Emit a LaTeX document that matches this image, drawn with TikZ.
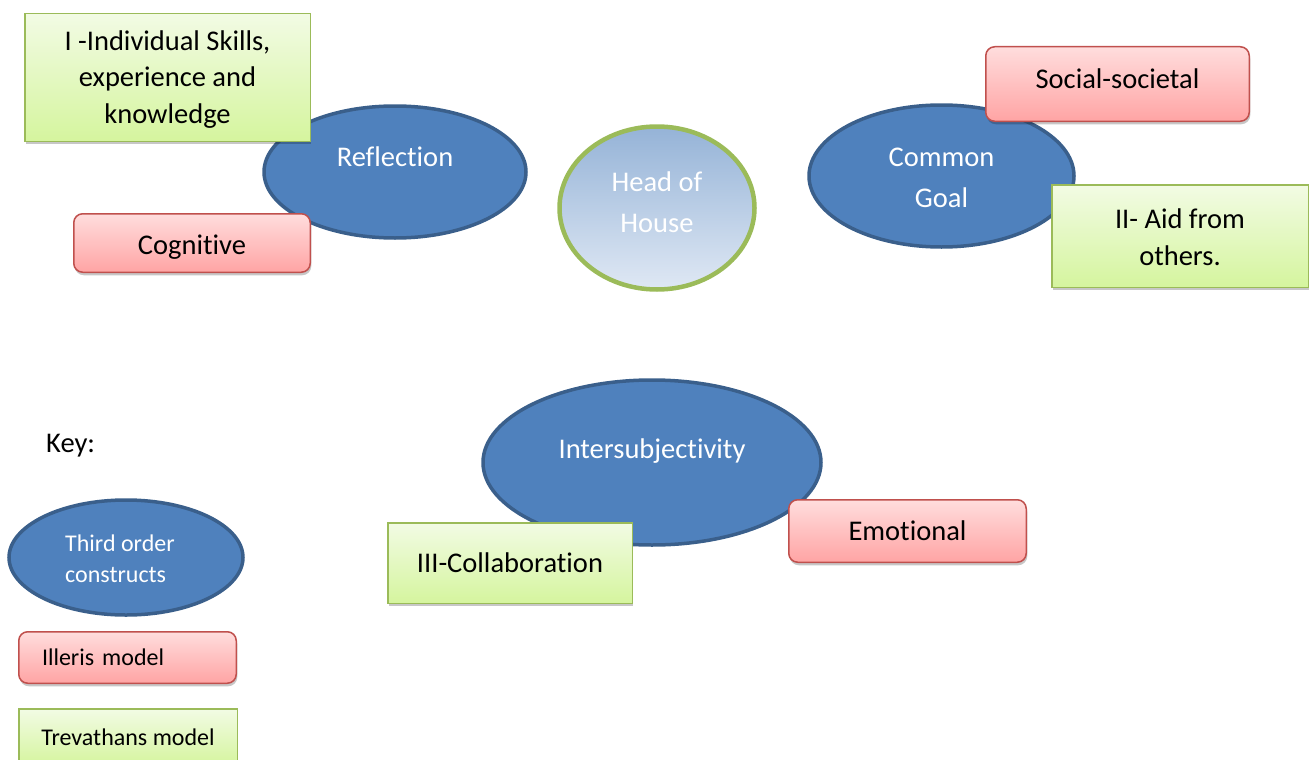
\documentclass[tikz,border=0pt]{standalone}
\usepackage{fontspec}
\setmainfont[RawFeature={-liga;-clig;-calt;-dlig}]{Carlito}
\usetikzlibrary{shapes.geometric,shadows}
\definecolor{ellfill}{HTML}{4F81BD}
\definecolor{elldraw}{HTML}{3A5F8B}
\definecolor{redtop}{HTML}{FFDDDD}
\definecolor{redbot}{HTML}{FFA4A4}
\definecolor{reddraw}{HTML}{C0504D}
\definecolor{greentop}{HTML}{F2FBE4}
\definecolor{greenbot}{HTML}{D5F59E}
\definecolor{greendraw}{HTML}{9BBB59}
\definecolor{hohtop}{HTML}{95B3D7}
\definecolor{hohbot}{HTML}{DFE8F4}
\begin{document}
\begin{tikzpicture}[x=1pt,y=-1pt,
  construct/.style={ellipse, fill=ellfill, draw=elldraw, line width=3.5pt, inner sep=0pt},
  wtext/.style={text=white, font=\fontsize{28.5}{41}\selectfont, align=center, inner sep=0pt},
  boxshadow/.style={drop shadow={shadow xshift=1pt, shadow yshift=-3pt, fill=black, opacity=0.22}},
  illeris/.style={rectangle, rounded corners=9pt, draw=reddraw, line width=1.5pt,
    top color=redtop, bottom color=redbot, boxshadow, inner sep=0pt, align=center,
    font=\fontsize{28.5}{36}\selectfont},
  trev/.style={rectangle, draw=greendraw, line width=1.5pt,
    top color=greentop, bottom color=greenbot, boxshadow, inner sep=0pt, align=center,
    font=\fontsize{28.5}{36}\selectfont},
  btext/.style={inner sep=0pt, align=center, font=\fontsize{28.5}{36.5}\selectfont},
  keyfont/.style={font=\fontsize{24}{31}\selectfont},
]
\useasboundingbox (0,0) rectangle (1309,760);

% third order constructs (ellipses)
\node[construct, minimum width=262pt, minimum height=132pt] (refl) at (395,172) {};
\node[construct, minimum width=265pt, minimum height=142pt] (goal) at (941.5,176) {};
\node[construct, minimum width=338pt, minimum height=165pt] (inter) at (652,462.5) {};
\node[construct, minimum width=234pt, minimum height=115pt] (keyell) at (126,557.5) {};

% head of house
\node[ellipse, draw=greendraw, line width=4.5pt, top color=hohtop, bottom color=hohbot,
      minimum width=195pt, minimum height=163pt, inner sep=0pt] (hoh) at (657,208) {};

% ellipse texts
\node[wtext] (refltxt) at ([yshift=15pt]refl.center) {Reflection};
\node[wtext] (hohtxt) at ([yshift=6pt]hoh.center) {Head of\\House};
\node[wtext] (goaltxt) at ([yshift=-2pt]goal.center) {Common\\Goal};
\node[wtext] (intertxt) at ([yshift=11pt]inter.center) {Intersubjectivity};
\node[text=white, keyfont, align=left, inner sep=0pt, anchor=west] (keyelltxt) at (65,559) {Third order\\constructs};

% Illeris model boxes (red)
\node[illeris, minimum width=236.5pt, minimum height=58.5pt] (cog) at (192,243) {};
\node[btext] (cogtxt) at ([yshift=-4pt]cog.center) {Cognitive};
\node[illeris, minimum width=263.5pt, minimum height=74.5pt] (soc) at (1117.5,84) {};
\node[btext] (soctxt) at ([yshift=5pt]soc.center) {Social-societal};
\node[illeris, minimum width=237.5pt, minimum height=62.5pt] (emo) at (907.5,531) {Emotional};

% Trevathans model boxes (green)
\node[trev, minimum width=285.5pt, minimum height=127.5pt] (indiv) at (167.5,77.5) {};
\node[btext] (indivtxt) at ([yshift=-2pt]indiv.center) {I -Individual Skills,\\experience and\\knowledge};
\node[trev, minimum width=256.5pt, minimum height=102.5pt] (aid) at (1180,236) {};
\node[btext] (aidtxt) at ([yshift=-1pt]aid.center) {II- Aid from\\others.};
\node[trev, minimum width=244.5pt, minimum height=80.5pt] (collab) at (510,563) {III-Collaboration};

% key
\node[inner sep=0pt, anchor=west, font=\fontsize{28.5}{36}\selectfont] (keytxt) at (46,446) {Key:};
\node[illeris, keyfont, minimum width=217.5pt, minimum height=51.5pt, text width=171pt,
      align=left, inner xsep=23.25pt] (keyill) at (127.5,657.5) {Illeris model};
\node[trev, keyfont, minimum width=218.5pt, minimum height=56pt] (keytrev) at (128,737) {Trevathans model};
\end{tikzpicture}
\end{document}
